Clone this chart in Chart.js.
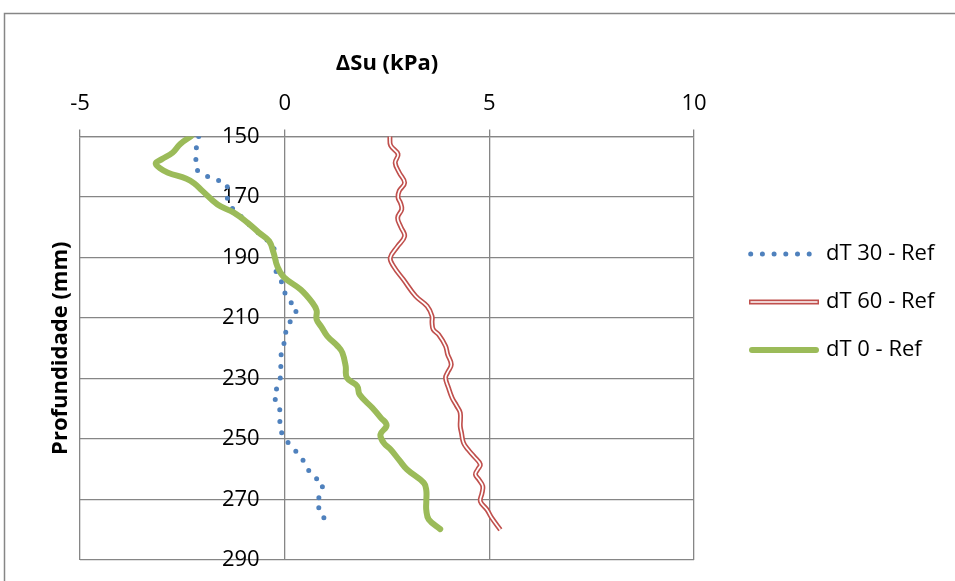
<!DOCTYPE html>
<html>
<head>
<meta charset="utf-8">
<script src="https://cdn.jsdelivr.net/npm/chart.js@4/dist/chart.umd.min.js"></script>
<style>
  html, body { margin: 0; padding: 0; background: #ffffff; }
  canvas { display: block; }
</style>
</head>
<body>
<canvas id="chart" width="955" height="581"></canvas>
<script>
// Axis ticks
const suTicks = [-5, 0, 5, 10];
const depthTicks = [150, 170, 190, 210, 230, 250, 270, 290];

// dT 30 - Ref
const depth30 = [150, 154, 158, 161, 163, 164.5, 166, 170, 173, 176, 180, 183.5, 186, 190, 194, 197, 201, 204, 207, 210, 213.5, 217, 221, 225, 228.5, 232, 236, 239, 243, 247, 250, 253, 256, 259.5, 262.5, 264.5, 268, 271.5, 274.5, 278];
const su30 = [-2.1, -2.16, -2.17, -2.16, -1.93, -1.62, -1.40, -1.41, -1.34, -1.1, -0.8, -0.5, -0.28, -0.21, -0.24, -0.1, -0.02, 0.09, 0.31, 0.19, 0.03, 0.02, -0.08, -0.10, -0.08, -0.15, -0.28, -0.12, -0.12, -0.11, 0.01, 0.2, 0.41, 0.54, 0.70, 0.94, 0.89, 0.76, 0.94, 0.98];

// dT 60 - Ref
const depth60 = [150, 153, 155.9, 158.7, 162, 165.3, 168, 170.2, 172, 174.1, 176.9, 180, 183, 186.5, 190.1, 192.9, 197.3, 202.8, 206.1, 209.4, 211.5, 213.8, 215.5, 219.3, 222, 225.4, 228, 229.8, 233, 236.4, 239, 241.4, 245.8, 248, 251.3, 253.5, 255.7, 258.4, 260, 261.7, 263.5, 265.6, 268, 270.6, 273.3, 276.1, 280];
const su60 = [2.57, 2.59, 2.77, 2.70, 2.80, 2.93, 2.80, 2.77, 2.83, 2.86, 2.76, 2.84, 2.93, 2.75, 2.58, 2.66, 2.90, 3.20, 3.48, 3.60, 3.60, 3.63, 3.76, 3.93, 3.98, 4.07, 3.98, 3.93, 4.0, 4.09, 4.2, 4.29, 4.29, 4.32, 4.37, 4.48, 4.62, 4.78, 4.72, 4.66, 4.75, 4.84, 4.82, 4.78, 4.94, 5.06, 5.27];

// dT 0 - Ref
const depth0 = [150, 152.5, 155.4, 157.5, 158.9, 160.5, 162, 164, 165.5, 168, 172.5, 175.2, 178.5, 181.8, 184.6, 188.5, 192.9, 196.5, 200.6, 205, 207.5, 210.5, 213, 216, 219.4, 221.5, 225.9, 229.8, 232.5, 235.3, 239.7, 243, 245.5, 248.5, 251.3, 253.5, 257, 260.1, 264.5, 267, 270.6, 273.5, 276.6, 279.8];
const su0 = [-2.29, -2.55, -2.74, -3.0, -3.15, -3.05, -2.85, -2.40, -2.21, -2.01, -1.64, -1.24, -0.91, -0.63, -0.38, -0.27, -0.18, -0.02, 0.39, 0.68, 0.78, 0.78, 0.9, 1.04, 1.3, 1.41, 1.49, 1.52, 1.77, 1.83, 2.14, 2.35, 2.49, 2.34, 2.42, 2.59, 2.80, 2.99, 3.40, 3.46, 3.46, 3.46, 3.52, 3.80];

const FONT = '"Open Sans", "Noto Sans", sans-serif';
const GRID = '#868686';
const BLUE = '#4F81BD';
const RED = '#C0504D';
const GREEN = '#9BBB59';

const toPoints = (ds, vs) => ds.map((d, i) => ({ x: vs[i], y: d }));

// Outer frame of the chart object
const framePlugin = {
  id: 'frame',
  beforeDraw(chart) {
    const ctx = chart.ctx;
    ctx.save();
    ctx.fillStyle = '#ffffff';
    ctx.fillRect(0, 0, chart.width, chart.height);
    ctx.strokeStyle = GRID;
    ctx.lineWidth = 1.5;
    ctx.beginPath();
    ctx.moveTo(4.5, chart.height + 2);
    ctx.lineTo(4.5, 13.5);
    ctx.lineTo(chart.width + 2, 13.5);
    ctx.stroke();
    ctx.restore();
  }
};

// Vertical axis title, kept at the left edge while the depth labels sit beside x = 0
const yTitlePlugin = {
  id: 'yTitle',
  afterDraw(chart) {
    const ctx = chart.ctx;
    const a = chart.chartArea;
    ctx.save();
    ctx.translate(61, (a.top + a.bottom) / 2);
    ctx.rotate(-Math.PI / 2);
    ctx.font = 'bold 22px ' + FONT;
    ctx.fillStyle = '#000000';
    ctx.textAlign = 'center';
    ctx.textBaseline = 'middle';
    ctx.fillText('Profundidade (mm)', 0, 0);
    ctx.restore();
  }
};

// Legend on the right, with samples matching each series' line style
const legendPlugin = {
  id: 'sideLegend',
  afterDraw(chart) {
    const ctx = chart.ctx;
    const x0 = 750, x1 = 819, tx = 826;
    const rows = [254, 302, 350];
    ctx.save();
    // dotted sample
    ctx.strokeStyle = BLUE;
    ctx.lineWidth = 5;
    ctx.lineCap = 'round';
    ctx.setLineDash([0, 11.7]);
    ctx.beginPath();
    ctx.moveTo(x0 + 0.7, rows[0]);
    ctx.lineTo(x0 + 60, rows[0]);
    ctx.stroke();
    ctx.setLineDash([]);
    // double-line sample
    ctx.lineCap = 'butt';
    ctx.strokeStyle = RED;
    ctx.lineWidth = 5;
    ctx.beginPath();
    ctx.moveTo(x0 - 1, rows[1]);
    ctx.lineTo(x1, rows[1]);
    ctx.stroke();
    ctx.strokeStyle = '#ffffff';
    ctx.lineWidth = 1.7;
    ctx.beginPath();
    ctx.moveTo(x0 + 0.5, rows[1]);
    ctx.lineTo(x1 - 1.5, rows[1]);
    ctx.stroke();
    // solid sample
    ctx.strokeStyle = GREEN;
    ctx.lineWidth = 6;
    ctx.lineCap = 'round';
    ctx.beginPath();
    ctx.moveTo(x0 + 2, rows[2]);
    ctx.lineTo(x1 - 3, rows[2]);
    ctx.stroke();
    // labels
    ctx.font = '22px ' + FONT;
    ctx.fillStyle = '#000000';
    ctx.textAlign = 'left';
    ctx.textBaseline = 'middle';
    chart.data.datasets.filter(d => d.label).forEach((d, i) => {
      ctx.fillText(d.label, tx, rows[i]);
    });
    ctx.restore();
  }
};

new Chart(document.getElementById('chart'), {
  type: 'line',
  data: {
    datasets: [
      {
        label: 'dT 30 - Ref',
        data: toPoints(depth30, su30),
        borderColor: BLUE,
        borderWidth: 5,
        borderDash: [0, 11.7],
        borderCapStyle: 'round',
        pointRadius: 0,
        tension: 0,
        fill: false,
        order: 4
      },
      {
        label: 'dT 60 - Ref',
        data: toPoints(depth60, su60),
        borderColor: RED,
        borderWidth: 5,
        pointRadius: 0,
        tension: 0.4,
        fill: false,
        order: 3
      },
      {
        label: '',
        data: toPoints(depth60, su60),
        borderColor: '#ffffff',
        borderWidth: 1.7,
        pointRadius: 0,
        tension: 0.4,
        fill: false,
        order: 2
      },
      {
        label: 'dT 0 - Ref',
        data: toPoints(depth0, su0),
        borderColor: GREEN,
        borderWidth: 6,
        borderCapStyle: 'round',
        borderJoinStyle: 'round',
        pointRadius: 0,
        tension: 0.4,
        fill: false,
        order: 1
      }
    ]
  },
  options: {
    responsive: false,
    animation: false,
    layout: { padding: { top: 51, left: 80, right: 261, bottom: 21 } },
    plugins: {
      legend: { display: false },
      tooltip: { enabled: false }
    },
    scales: {
      x: {
        type: 'linear',
        position: 'top',
        min: -5,
        max: 10,
        afterBuildTicks: s => { s.ticks = suTicks.map(v => ({ value: v })); },
        grid: { color: GRID, lineWidth: 1.3, tickLength: 7, drawTicks: true },
        border: { display: true, color: GRID, width: 1.3 },
        ticks: { color: '#000000', font: { family: FONT, size: 22 }, padding: 12, maxRotation: 0 },
        title: {
          display: true,
          text: 'ΔSu (kPa)',
          color: '#000000',
          font: { family: FONT, size: 22, weight: 'bold' },
          padding: { top: 0, bottom: 1.6 }
        }
      },
      y: {
        type: 'linear',
        // labels end a little left of the vertical line drawn at ΔSu = 0
        position: { x: -0.61 },
        reverse: true,
        min: 150,
        max: 290,
        afterBuildTicks: s => { s.ticks = depthTicks.map(v => ({ value: v })); },
        afterFit: s => { s.paddingTop = 0; s.paddingBottom = 0; },
        grid: { color: GRID, lineWidth: 1.3, drawTicks: false },
        border: { display: false },
        ticks: { color: '#000000', font: { family: FONT, size: 22 }, padding: 0 }
      }
    }
  },
  plugins: [framePlugin, yTitlePlugin, legendPlugin]
});
</script>
</body>
</html>
